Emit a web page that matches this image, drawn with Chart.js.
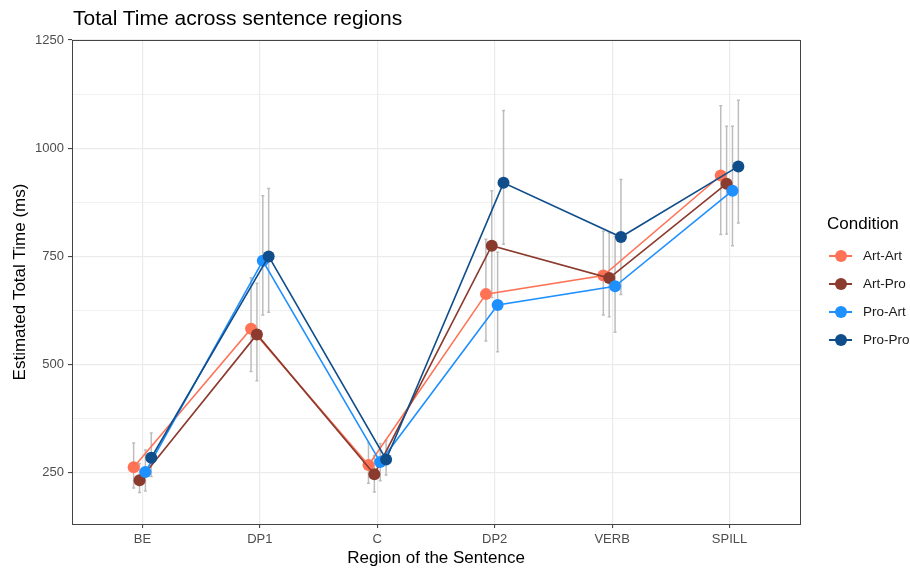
<!DOCTYPE html>
<html>
<head>
<meta charset="utf-8">
<script src="https://cdn.jsdelivr.net/npm/chart.js@4.4.1/dist/chart.umd.min.js"></script>
<style>
  html, body { margin:0; padding:0; background:#fff; }
  #wrap { position:relative; width:910px; height:570px; font-family:"Liberation Sans", Arial, sans-serif; }
  #title { position:absolute; left:73px; top:5px; font-size:21px; color:#000; line-height:26px; white-space:nowrap; }
  #legend { position:absolute; left:827px; top:212px; width:83px; color:#000; white-space:nowrap; }
  #legend .lt { font-size:17px; line-height:24px; margin-bottom:6px; }
  #legend .it { position:relative; height:28px; }
  #legend .ln { position:absolute; left:2px; top:13px; width:23px; height:1.6px; }
  #legend .pt { position:absolute; left:8px; top:8px; width:12px; height:12px; border-radius:50%; }
  #legend .lb { position:absolute; left:36px; top:5px; font-size:13.5px; line-height:18px; color:#1a1a1a; white-space:nowrap; }
</style>
</head>
<body>
<div id="wrap">
  <canvas id="c" width="910" height="570"></canvas>
  <div id="title">Total Time across sentence regions</div>
  <div id="legend"></div>
</div>
<script>
const categories = ['BE', 'DP1', 'C', 'DP2', 'VERB', 'SPILL'];
const conditions = ['Art-Art', 'Art-Pro', 'Pro-Art', 'Pro-Pro'];
const colors = ['#FF7256', '#8B3A2E', '#1E90FF', '#104E8B'];

// estimated means (ms)
const artArt = [263, 583, 268, 663, 706, 937];
const artPro = [233, 570, 247, 775, 700, 918];
const proArt = [252, 740, 275, 638, 681, 902];
const proPro = [285, 750, 281, 920, 795, 958];

// error bar ends
const artArtLo = [215, 484, 226, 555, 615, 801];
const artArtHi = [319, 701, 319, 790, 808, 1098];
const artProLo = [205, 463, 206, 655, 611, 802];
const artProHi = [272, 688, 290, 902, 804, 1051];
const proArtLo = [208, 615, 232, 530, 575, 775];
const proArtHi = [303, 890, 318, 760, 796, 1051];
const proProLo = [242, 621, 245, 778, 662, 827];
const proProHi = [342, 907, 325, 1087, 928, 1111];

const yMajor = [250, 500, 750, 1000, 1250];
const yMinor = [375, 625, 875, 1125];

// position_dodge offsets, in category units
const dodge = [-0.075, -0.025, 0.025, 0.075];

const means = [artArt, artPro, proArt, proPro];
const lows = [artArtLo, artProLo, proArtLo, proProLo];
const highs = [artArtHi, artProHi, proArtHi, proProHi];

const datasets = conditions.map((name, k) => ({
  label: name,
  data: means[k].map((v, i) => ({x: i + dodge[k], y: v})),
  borderColor: colors[k],
  backgroundColor: colors[k],
  borderWidth: 1.6,
  pointRadius: 6,
  pointBorderWidth: 0,
  pointHoverRadius: 6,
  tension: 0,
  order: 4 - k
}));

const errorBars = {
  id: 'errorBars',
  beforeDatasetsDraw(chart){
    const {ctx, scales:{x, y}} = chart;
    ctx.save();
    ctx.strokeStyle = '#BDBDBD';
    ctx.lineWidth = 1.5;
    conditions.forEach((name, k) => {
      categories.forEach((c, i) => {
        const px = x.getPixelForValue(i + dodge[k]);
        const lo = y.getPixelForValue(lows[k][i]);
        const hi = y.getPixelForValue(highs[k][i]);
        ctx.beginPath();
        ctx.moveTo(px, lo); ctx.lineTo(px, hi);
        ctx.moveTo(px - 1.5, lo); ctx.lineTo(px + 1.5, lo);
        ctx.moveTo(px - 1.5, hi); ctx.lineTo(px + 1.5, hi);
        ctx.stroke();
      });
    });
    ctx.restore();
  }
};

const panelBorder = {
  id: 'panelBorder',
  afterDraw(chart){
    const {ctx, chartArea:a} = chart;
    ctx.save();
    ctx.strokeStyle = '#444444';
    ctx.lineWidth = 1;
    ctx.strokeRect(a.left + 0.5, a.top + 0.5, a.right - a.left, a.bottom - a.top);
    ctx.restore();
  }
};

const tickFont = {family: '"Liberation Sans", Arial, sans-serif', size: 13};
const titleFont = {family: '"Liberation Sans", Arial, sans-serif', size: 17};

new Chart(document.getElementById('c'), {
  type: 'line',
  data: {datasets},
  plugins: [errorBars, panelBorder],
  options: {
    responsive: false,
    animation: false,
    events: [],
    layout: {padding: {top: 40, right: 110, left: 0, bottom: 0}},
    plugins: {legend: {display: false}, tooltip: {enabled: false}},
    scales: {
      x: {
        type: 'linear',
        min: -0.6,
        max: 5.6,
        afterBuildTicks: s => { s.ticks = categories.map((c, i) => ({value: i})); },
        afterFit: s => { s.height = 46; },
        ticks: {
          autoSkip: false, maxRotation: 0, padding: 4,
          color: '#4D4D4D', font: tickFont,
          callback: v => categories[v]
        },
        grid: {color: '#EBEBEB', lineWidth: 1.2, tickLength: 4, tickColor: '#333333', tickWidth: 1},
        border: {display: false},
        title: {display: true, text: 'Region of the Sentence', color: '#000', font: titleFont, padding: {top: 0, bottom: 1}}
      },
      y: {
        type: 'linear',
        min: 132,
        max: 1250,
        afterBuildTicks: s => { s.ticks = yMajor.concat(yMinor).sort((a, b) => a - b).map(v => ({value: v})); },
        afterFit: s => { s.width = 72; },
        ticks: {
          autoSkip: false, padding: 4,
          color: '#4D4D4D', font: tickFont,
          callback: v => yMajor.includes(v) ? String(v) : ''
        },
        grid: {
          color: '#EBEBEB',
          lineWidth: c => yMajor.includes(c.tick && c.tick.value) ? 1.2 : 0.7,
          tickLength: 4,
          tickColor: c => yMajor.includes(c.tick && c.tick.value) ? '#333333' : 'rgba(0,0,0,0)',
          tickWidth: 1
        },
        border: {display: false},
        title: {display: true, text: 'Estimated Total Time (ms)', color: '#000', font: titleFont, padding: {top: 10, bottom: 0}}
      }
    }
  }
});

const legend = document.getElementById('legend');
legend.innerHTML = '<div class="lt">Condition</div>' + conditions.map((name, k) =>
  `<div class="it"><div class="ln" style="background:${colors[k]}"></div>` +
  `<div class="pt" style="background:${colors[k]}"></div><div class="lb">${name}</div></div>`
).join('');
</script>
</body>
</html>
